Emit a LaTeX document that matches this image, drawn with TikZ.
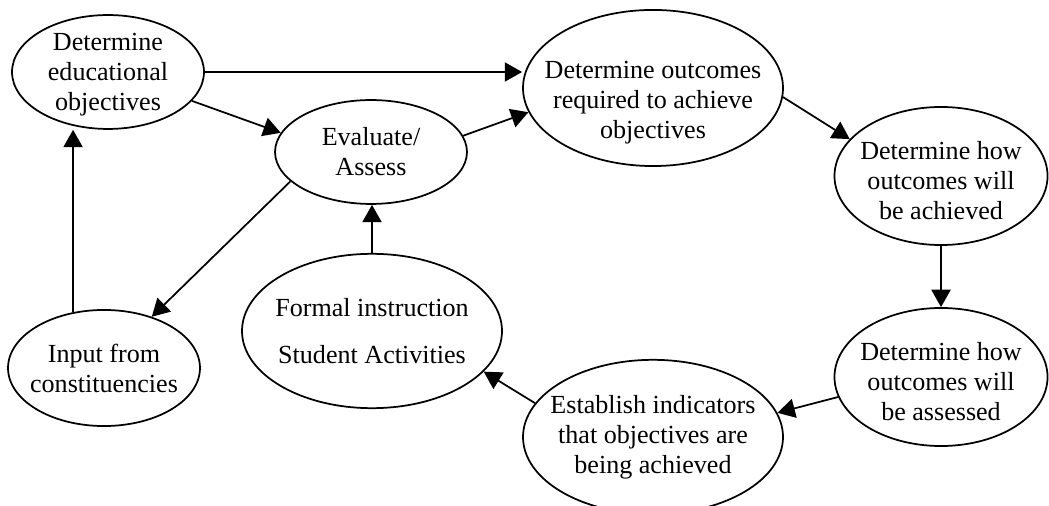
\documentclass[tikz,border=0pt]{standalone}
\usepackage{fontspec}
\setmainfont{Liberation Serif}
\usetikzlibrary{shapes.geometric, arrows.meta}

\begin{document}
\begin{tikzpicture}[
  x=0.46pt, y=-0.46pt,
  goal/.style={ellipse, draw, line width=0.8pt, inner xsep=-12pt, inner ysep=-8pt, align=center, font=\fontsize{12}{13.8}\selectfont},
  small/.style={goal, minimum width=88.3pt, minimum height=52.4pt},
  mid/.style={goal, minimum width=98pt, minimum height=63.5pt},
  big/.style={goal, minimum width=119.6pt, minimum height=71pt},
  >={Triangle[length=8pt, width=8.8pt]},
  link/.style={->, line width=0.8pt}
]
  \clip (0,0) rectangle (1049,506);

  \node[small] (edu) at (108,72) {\rule{0pt}{10pt}Determine\\educational\\objectives};
  \node[small, minimum height=47.8pt] (eval) at (371,152) {Evaluate/\\Assess};
  \node[big, minimum height=71.8pt] (outc) at (653,88) {\rule{0pt}{21.5pt}Determine outcomes\\required to achieve\\objectives};
  \node[mid] (how) at (941,176) {\rule{0pt}{12.5pt}Determine how\\outcomes will\\be achieved};
  \node[mid] (assess) at (941,377) {\rule{0pt}{12.5pt}Determine how\\outcomes will\\be assessed};
  \node[big] (ind) at (653,437) {Establish indicators\\that objectives are\\being achieved};
  \node[big] (instr) at (372,331) {Formal instruction\\[7.8pt]Student Activities};
  \node[small, minimum height=53.4pt] (input) at (104,368) {Input from\\constituencies};

  \draw[link] (edu.east) -- (edu.east -| outc.west);
  \draw[link] (edu.-19) -- (eval.168);
  \draw[link] (eval.10) -- (outc.191);
  \draw[link] (outc.-4) -- (how.158);
  \draw[link] (how.south) -- (assess.north);
  \draw[link] (assess.191) -- (ind.11);
  \draw[link] (ind.164) -- (instr.-20);
  \draw[link] (instr.north) -- (instr.north |- eval.south);
  \draw[link] (eval.200) -- (input.47);
  \draw[link] (input.119) -- (input.119 |- edu.south);
\end{tikzpicture}
\end{document}
